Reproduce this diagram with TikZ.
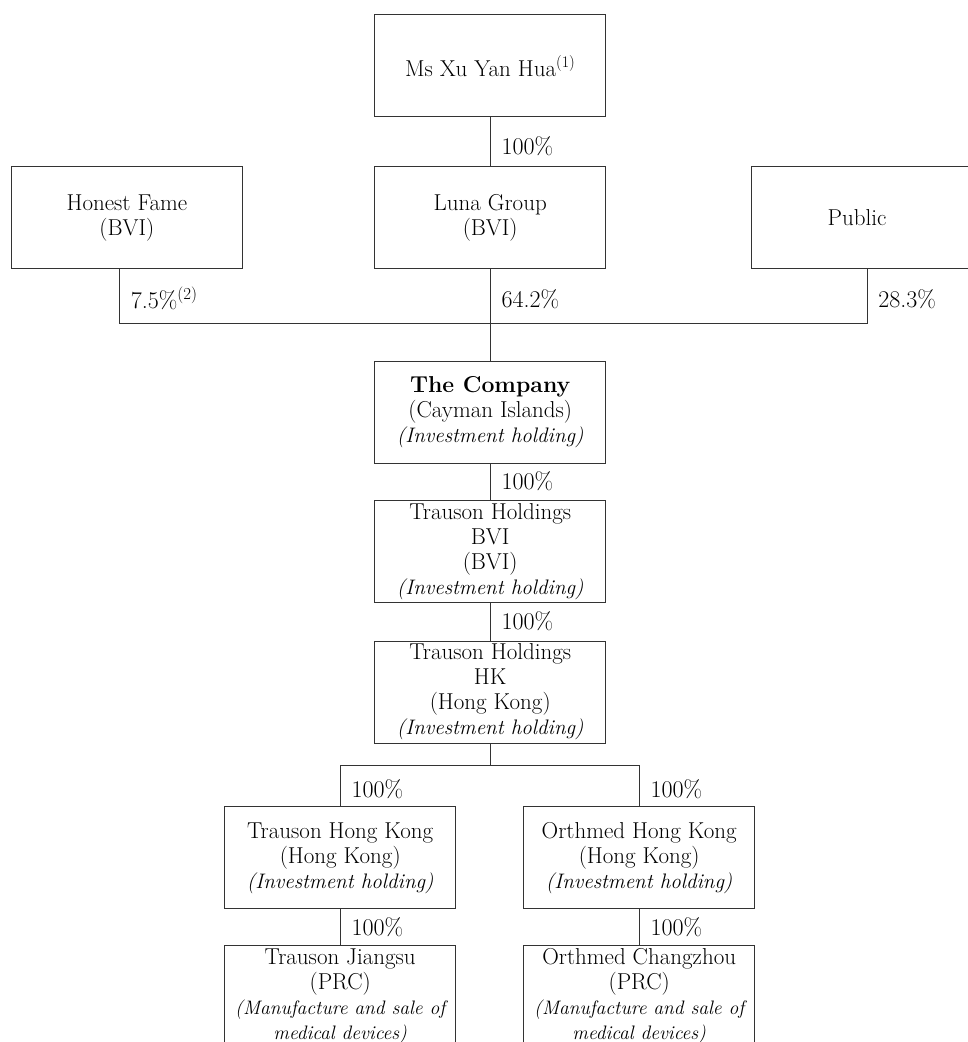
\documentclass[tikz,border=0pt]{standalone}
\usepackage{tikz}
\usetikzlibrary{positioning}

\newcommand{\boxfont}{\fontsize{23}{25}\selectfont}
\newcommand{\notefont}{\fontsize{21}{25}\selectfont\itshape}
\newcommand{\smallnote}{\fontsize{19.5}{24}\selectfont\itshape}

\begin{document}
\begin{tikzpicture}[
        x=1pt, y=1pt,
        entity/.style={
            draw=black!80,
            line width=0.8pt,
            minimum width=231pt,
            minimum height=102pt,
            inner xsep=2pt,
            inner ysep=1pt,
            font=\boxfont,
            text=black,
            align=center
        },
        pct/.style={
            anchor=west,
            inner sep=0pt,
            xshift=11pt,
            font=\fontsize{24}{25}\selectfont,
            text=black
        },
        link/.style={draw=black!80, line width=0.8pt}
    ]
        \useasboundingbox (0,0) rectangle (967,-1042);

        % 股东
        \node[entity] (xu) at (490.2,-65.8) {Ms Xu Yan Hua\textsuperscript{(1)}};
        \node[entity, below=49pt of xu] (luna) {Luna Group\\(BVI)};
        \node[entity, left=131.5pt of luna] (honest) {Honest Fame\\(BVI)};
        \node[entity, right=145pt of luna] (public) {Public\hspace*{20pt}};

        % 本公司及控股公司
        \node[entity, below=91.5pt of luna] (company) {\textbf{The Company}\\(Cayman Islands)\\{\notefont (Investment holding)}};
        \node[entity, below=36.5pt of company] (bvi) {Trauson Holdings\\BVI\\(BVI)\\{\notefont (Investment holding)}};
        \node[entity, below=38pt of bvi] (hk) {Trauson Holdings\\HK\\(Hong Kong)\\{\notefont (Investment holding)}};

        % 香港附属公司
        \node[entity, below=63pt of hk, xshift=-150pt] (thk) {Trauson Hong Kong\\(Hong Kong)\\{\notefont (Investment holding)}};
        \node[entity, below=63pt of hk, xshift=149pt] (ohk) {Orthmed Hong Kong\\(Hong Kong)\\{\notefont (Investment holding)}};

        % 中国附属公司
        \node[entity, below=37pt of thk, yshift=1pt] (tjs) {Trauson Jiangsu\\(PRC)\\{\smallnote (Manufacture and sale of}\\{\smallnote medical devices)}};
        \node[entity, below=37pt of ohk, yshift=1pt] (ocz) {Orthmed Changzhou\\(PRC)\\{\smallnote (Manufacture and sale of}\\{\smallnote medical devices)}};

        % 持股连线
        \coordinate[above=37.5pt of company] (join);
        \coordinate[below=22pt of hk] (split);

        \draw[link] (xu) -- node[pct, yshift=-4pt] (p0) {100\%} (luna);
        \draw[link] ([xshift=-7.5pt]honest.south) |- node[pct, pos=0.25, yshift=-2pt] (p1) {7.5\%\textsuperscript{(2)}} (join);
        \draw[link] (luna) -- node[pct, yshift=-3pt] (p2) {64.2\%} (join);
        \draw[link] (public) |- node[pct, pos=0.25, yshift=-3pt] (p3) {28.3\%} (join);
        \draw[link] (join) -- (company);
        \draw[link] (company) -- node[pct] (p4) {100\%} (bvi);
        \draw[link] (bvi) -- node[pct] (p5) {100\%} (hk);
        \draw[link] (hk) -- (split);
        \draw[link] (split) -| node[pct, pos=0.75, yshift=-3pt] (p6) {100\%} (thk);
        \draw[link] (split) -| node[pct, pos=0.75, yshift=-3pt] (p7) {100\%} (ohk);
        \draw[link] (thk) -- node[pct] (p8) {100\%} (tjs);
        \draw[link] (ohk) -- node[pct] (p9) {100\%} (ocz);
\end{tikzpicture}
\end{document}
